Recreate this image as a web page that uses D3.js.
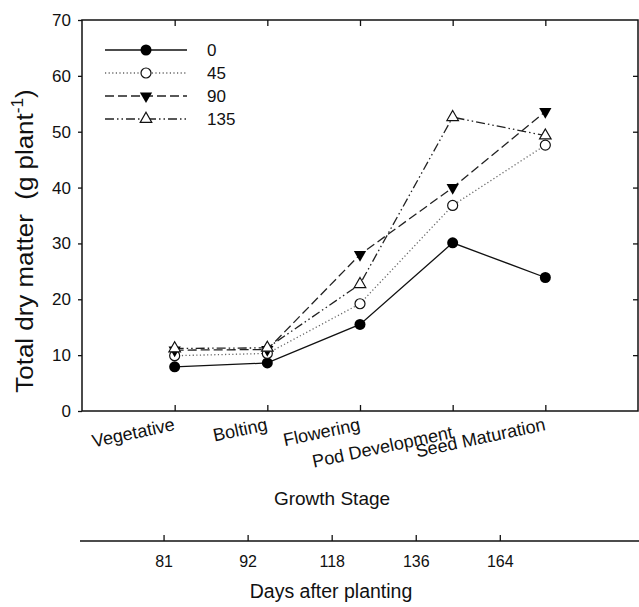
<!DOCTYPE html>
<html>
<head>
<meta charset="utf-8">
<script src="https://cdn.jsdelivr.net/npm/d3@7"></script>
<style>
  body { margin: 0; background: #fff; }
  text { font-family: "Liberation Sans", Arial, sans-serif; fill: #111; }
</style>
</head>
<body>
<script>
// data
const stages = ["Vegetative", "Bolting", "Flowering", "Pod Development", "Seed Maturation"];
const days = ["81", "92", "118", "136", "164"];
const rates = ["0", "45", "90", "135"];
const dm0 = [7.9, 8.6, 15.5, 30.1, 23.9];
const dm45 = [9.9, 10.3, 19.2, 36.8, 47.6];
const dm90 = [10.9, 11.0, 28.0, 40.0, 53.6];
const dm135 = [11.2, 11.3, 22.7, 52.6, 49.3];
const yTicks = [0, 10, 20, 30, 40, 50, 60, 70];

const series = [
  { name: rates[0], values: dm0, dash: null, color: "#111", marker: "circleFill" },
  { name: rates[1], values: dm45, dash: "1.2,2.4", color: "#666", marker: "circleOpen" },
  { name: rates[2], values: dm90, dash: "9,4", color: "#222", marker: "triDown" },
  { name: rates[3], values: dm135, dash: "9,3,1.5,3,1.5,3", color: "#222", marker: "triUp" }
];

const W = 639, H = 607;
const svg = d3.select("body").append("svg")
  .attr("width", W)
  .attr("height", H);

const x = d3.scaleLinear().domain([0, 6]).range([82, 638]);
const y = d3.scaleLinear().domain([0, 70]).range([411, 20]);

// frame
svg.append("rect")
  .attr("x", x(0)).attr("y", y(70))
  .attr("width", x(6) - x(0)).attr("height", y(0) - y(70))
  .attr("fill", "none").attr("stroke", "#111").attr("stroke-width", 1.5);

// left axis
const yAxis = svg.append("g")
  .attr("transform", `translate(${x(0)},0)`)
  .call(d3.axisLeft(y).tickValues(yTicks).tickSize(4).tickPadding(7));
yAxis.select(".domain").remove();
yAxis.selectAll("line").attr("stroke", "#111").attr("stroke-width", 1.3);
yAxis.selectAll("text").style("font-size", "17px").style("font-family", "Liberation Sans, Arial");

// right axis ticks inward
const yAxisR = svg.append("g")
  .attr("transform", `translate(${x(6)},0)`)
  .call(d3.axisLeft(y).tickValues(yTicks.slice(1, -1)).tickSize(5).tickFormat(""));
yAxisR.select(".domain").remove();
yAxisR.selectAll("line").attr("x2", -5).attr("stroke", "#111").attr("stroke-width", 1.3);

// bottom axis, ticks inward
const idx = d3.range(1, 6);
const xAxis = svg.append("g")
  .attr("transform", `translate(0,${y(0)})`)
  .call(d3.axisTop(x).tickValues(idx).tickSize(6).tickFormat(""));
xAxis.select(".domain").remove();
xAxis.selectAll("line").attr("stroke", "#111").attr("stroke-width", 1.3);

// top ticks inward
const xAxisT = svg.append("g")
  .attr("transform", `translate(0,${y(70)})`)
  .call(d3.axisBottom(x).tickValues(idx).tickSize(6).tickFormat(""));
xAxisT.select(".domain").remove();
xAxisT.selectAll("line").attr("stroke", "#111").attr("stroke-width", 1.3);

// stage labels, slanted
svg.append("g").selectAll("text")
  .data(stages)
  .join("text")
  .attr("transform", (d, i) => `translate(${x(i + 1) + 1},${i === 3 ? 438 : 430}) rotate(-12)`)
  .attr("text-anchor", "end")
  .style("font-size", "18px")
  .text(d => d);

svg.append("text")
  .attr("x", 332).attr("y", 505)
  .attr("text-anchor", "middle")
  .style("font-size", "19px")
  .text("Growth Stage");

// y title
const yt = svg.append("text")
  .attr("transform", "translate(33,241) rotate(-90) scale(1.08,1)")
  .attr("text-anchor", "middle")
  .style("white-space", "pre")
  .style("font-size", "24px");
yt.append("tspan").text("Total dry matter  (g plant");
yt.append("tspan").attr("dy", -10).style("font-size", "16px").text("-1");
yt.append("tspan").attr("dy", 10).text(")");

// second axis: days after planting
const xd = d3.scaleLinear().domain([0, 6.65]).range([80, 639]);
const dAxis = svg.append("g")
  .attr("transform", "translate(0,541)");
dAxis.append("line")
  .attr("x1", xd(0)).attr("x2", xd(6.65))
  .attr("stroke", "#111").attr("stroke-width", 1.5);
dAxis.selectAll(".dt")
  .data(days)
  .join("line")
  .attr("x1", (d, i) => xd(i + 1)).attr("x2", (d, i) => xd(i + 1))
  .attr("y1", 0).attr("y2", -6)
  .attr("stroke", "#111").attr("stroke-width", 1.3);
dAxis.selectAll(".dl")
  .data(days)
  .join("text")
  .attr("x", (d, i) => xd(i + 1)).attr("y", 26)
  .attr("text-anchor", "middle")
  .style("font-size", "16px")
  .text(d => d);

svg.append("text")
  .attr("x", 331).attr("y", 598)
  .attr("text-anchor", "middle")
  .style("font-size", "19.5px")
  .text("Days after planting");

// markers
function drawMarker(g, type, cx, cy) {
  if (type === "circleFill") {
    g.append("circle").attr("cx", cx).attr("cy", cy).attr("r", 5.5).attr("fill", "#000");
  } else if (type === "circleOpen") {
    g.append("circle").attr("cx", cx).attr("cy", cy).attr("r", 5)
      .attr("fill", "#fff").attr("stroke", "#111").attr("stroke-width", 1.2);
  } else if (type === "triDown") {
    g.append("path").attr("d", d3.symbol(d3.symbolTriangle, 65)())
      .attr("transform", `translate(${cx},${cy}) rotate(180)`).attr("fill", "#000");
  } else {
    g.append("path").attr("d", d3.symbol(d3.symbolTriangle, 58)())
      .attr("transform", `translate(${cx},${cy})`)
      .attr("fill", "#fff").attr("stroke", "#111").attr("stroke-width", 1.2);
  }
}

const line = d3.line().x((d, i) => x(i + 1)).y(d => y(d));

series.forEach(s => {
  svg.append("path")
    .datum(s.values)
    .attr("d", line)
    .attr("fill", "none")
    .attr("stroke", s.color)
    .attr("stroke-width", 1.3)
    .attr("stroke-dasharray", s.dash);
});
series.forEach(s => {
  const g = svg.append("g");
  s.values.forEach((v, i) => drawMarker(g, s.marker, x(i + 1), y(v)));
});

// legend
const leg = svg.append("g");
series.forEach((s, i) => {
  const ly = 50 + i * 23;
  leg.append("line")
    .attr("x1", 105).attr("x2", 187).attr("y1", ly).attr("y2", ly)
    .attr("stroke", s.color).attr("stroke-width", 1.3)
    .attr("stroke-dasharray", s.dash);
  drawMarker(leg, s.marker, 146, ly);
  leg.append("text")
    .attr("x", 207).attr("y", ly + 6)
    .style("font-size", "17px")
    .text(s.name);
});
</script>
</body>
</html>
